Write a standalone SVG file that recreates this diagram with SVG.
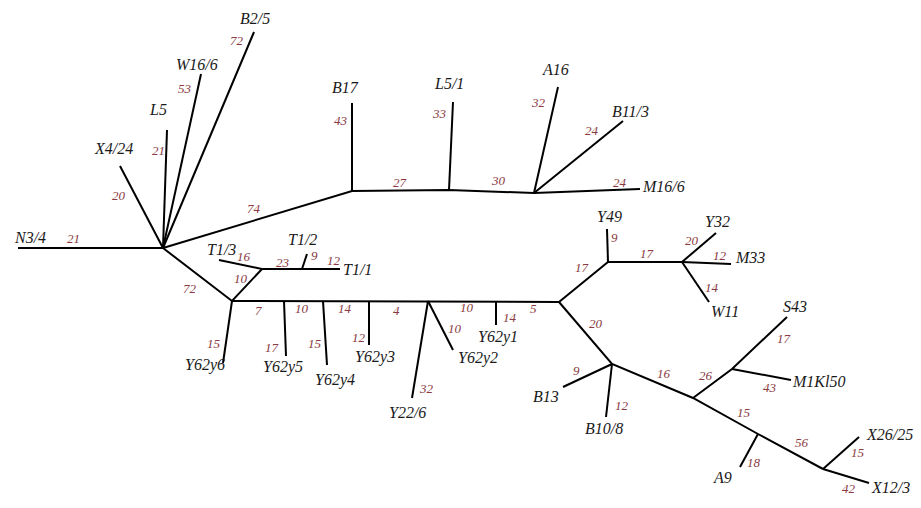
<svg xmlns="http://www.w3.org/2000/svg" width="921" height="508" viewBox="0 0 921 508">
  <style>
    .edge { stroke: #000; stroke-width: 2; fill: none; stroke-linecap: butt; stroke-linejoin: miter; }
    .name { font-family: "Liberation Serif", "Times New Roman", serif; font-style: italic; font-size: 16px; fill: #1a1a1a; }
    .len  { font-family: "Liberation Serif", "Times New Roman", serif; font-style: italic; font-size: 13px; fill: #8b3a42; }
  </style>
  <rect width="921" height="508" fill="#fff"/>

  <!-- branches of the tree -->
  <g id="connectors">
    <!-- left hub -->
    <line class="edge" x1="18" y1="248" x2="163" y2="248"/>
    <line class="edge" x1="163" y1="248" x2="120" y2="166"/>
    <line class="edge" x1="163" y1="248" x2="167" y2="130"/>
    <line class="edge" x1="163" y1="248" x2="201" y2="74"/>
    <line class="edge" x1="163" y1="248" x2="254" y2="32"/>
    <!-- upper arm -->
    <polyline class="edge" points="163,248 352,191 449,190 534,193"/>
    <line class="edge" x1="352" y1="191" x2="352" y2="103"/>
    <line class="edge" x1="449" y1="190" x2="453" y2="102"/>
    <line class="edge" x1="534" y1="193" x2="558" y2="87"/>
    <line class="edge" x1="534" y1="193" x2="623" y2="121"/>
    <line class="edge" x1="534" y1="193" x2="640" y2="189"/>
    <!-- T1 cluster -->
    <polyline class="edge" points="163,248 232,301 262,269 302,269 340,269"/>
    <line class="edge" x1="262" y1="269" x2="219" y2="260"/>
    <line class="edge" x1="302" y1="269" x2="307" y2="254"/>
    <!-- Y62 backbone -->
    <line class="edge" x1="232" y1="301" x2="559" y2="302"/>
    <line class="edge" x1="232" y1="301" x2="223" y2="363"/>
    <line class="edge" x1="284" y1="301" x2="286" y2="356"/>
    <line class="edge" x1="323" y1="301" x2="327" y2="365"/>
    <line class="edge" x1="369" y1="301" x2="369" y2="345"/>
    <line class="edge" x1="428" y1="301" x2="412" y2="398"/>
    <line class="edge" x1="428" y1="301" x2="453" y2="350"/>
    <line class="edge" x1="496" y1="301" x2="496" y2="325"/>
    <!-- upper right -->
    <polyline class="edge" points="559,302 608,262 682,262"/>
    <line class="edge" x1="608" y1="262" x2="607" y2="229"/>
    <line class="edge" x1="682" y1="262" x2="716" y2="233"/>
    <line class="edge" x1="682" y1="262" x2="731" y2="264"/>
    <line class="edge" x1="682" y1="262" x2="709" y2="302"/>
    <!-- lower right -->
    <polyline class="edge" points="559,302 612,364 693,398 758,434 823,469"/>
    <line class="edge" x1="612" y1="364" x2="563" y2="387"/>
    <line class="edge" x1="612" y1="364" x2="606" y2="417"/>
    <polyline class="edge" points="693,398 732,369 787,317"/>
    <line class="edge" x1="732" y1="369" x2="791" y2="380"/>
    <line class="edge" x1="758" y1="434" x2="740" y2="467"/>
    <line class="edge" x1="823" y1="469" x2="859" y2="437"/>
    <line class="edge" x1="823" y1="469" x2="869" y2="483"/>

    <!-- branch lengths -->
    <text class="len" x="67" y="243">21</text>
    <text class="len" x="112" y="200">20</text>
    <text class="len" x="152" y="155">21</text>
    <text class="len" x="178" y="93">53</text>
    <text class="len" x="230" y="45">72</text>
    <text class="len" x="247" y="213">74</text>
    <text class="len" x="334" y="125">43</text>
    <text class="len" x="393" y="187">27</text>
    <text class="len" x="433" y="118">33</text>
    <text class="len" x="492" y="185">30</text>
    <text class="len" x="532" y="107">32</text>
    <text class="len" x="585" y="135">24</text>
    <text class="len" x="613" y="187">24</text>
    <text class="len" x="183" y="293">72</text>
    <text class="len" x="234" y="283">10</text>
    <text class="len" x="237" y="261">16</text>
    <text class="len" x="276" y="267">23</text>
    <text class="len" x="311" y="260">9</text>
    <text class="len" x="327" y="265">12</text>
    <text class="len" x="207" y="348">15</text>
    <text class="len" x="255" y="315">7</text>
    <text class="len" x="265" y="352">17</text>
    <text class="len" x="295" y="313">10</text>
    <text class="len" x="308" y="348">15</text>
    <text class="len" x="338" y="313">14</text>
    <text class="len" x="352" y="342">12</text>
    <text class="len" x="393" y="315">4</text>
    <text class="len" x="420" y="393">32</text>
    <text class="len" x="448" y="333">10</text>
    <text class="len" x="460" y="312">10</text>
    <text class="len" x="503" y="322">14</text>
    <text class="len" x="530" y="313">5</text>
    <text class="len" x="575" y="272">17</text>
    <text class="len" x="611" y="242">9</text>
    <text class="len" x="640" y="258">17</text>
    <text class="len" x="685" y="245">20</text>
    <text class="len" x="713" y="260">12</text>
    <text class="len" x="705" y="292">14</text>
    <text class="len" x="589" y="328">20</text>
    <text class="len" x="573" y="375">9</text>
    <text class="len" x="615" y="410">12</text>
    <text class="len" x="657" y="378">16</text>
    <text class="len" x="699" y="380">26</text>
    <text class="len" x="777" y="343">17</text>
    <text class="len" x="763" y="392">43</text>
    <text class="len" x="737" y="417">15</text>
    <text class="len" x="747" y="467">18</text>
    <text class="len" x="795" y="447">56</text>
    <text class="len" x="851" y="457">15</text>
    <text class="len" x="842" y="493">42</text>
  </g>

  <!-- leaf labels -->
  <g id="N3-4"><text class="name" x="15" y="243">N3/4</text></g>
  <g id="X4-24"><text class="name" x="95" y="154">X4/24</text></g>
  <g id="L5"><text class="name" x="150" y="115">L5</text></g>
  <g id="W16-6"><text class="name" x="176" y="70">W16/6</text></g>
  <g id="B2-5"><text class="name" x="240" y="24">B2/5</text></g>
  <g id="B17"><text class="name" x="332" y="93">B17</text></g>
  <g id="L5-1"><text class="name" x="435" y="89">L5/1</text></g>
  <g id="A16"><text class="name" x="543" y="75">A16</text></g>
  <g id="B11-3"><text class="name" x="612" y="117">B11/3</text></g>
  <g id="M16-6"><text class="name" x="643" y="192">M16/6</text></g>
  <g id="T1-3"><text class="name" x="207" y="255">T1/3</text></g>
  <g id="T1-2"><text class="name" x="288" y="245">T1/2</text></g>
  <g id="T1-1"><text class="name" x="343" y="275">T1/1</text></g>
  <g id="Y62y6"><text class="name" x="185" y="370">Y62y6</text></g>
  <g id="Y62y5"><text class="name" x="263" y="372">Y62y5</text></g>
  <g id="Y62y4"><text class="name" x="315" y="385">Y62y4</text></g>
  <g id="Y62y3"><text class="name" x="355" y="362">Y62y3</text></g>
  <g id="Y22-6"><text class="name" x="389" y="418">Y22/6</text></g>
  <g id="Y62y2"><text class="name" x="458" y="363">Y62y2</text></g>
  <g id="Y62y1"><text class="name" x="478" y="342">Y62y1</text></g>
  <g id="Y49"><text class="name" x="597" y="222">Y49</text></g>
  <g id="Y32"><text class="name" x="705" y="227">Y32</text></g>
  <g id="M33"><text class="name" x="736" y="263">M33</text></g>
  <g id="W11"><text class="name" x="711" y="317">W11</text></g>
  <g id="B13"><text class="name" x="533" y="402">B13</text></g>
  <g id="B10-8"><text class="name" x="585" y="434">B10/8</text></g>
  <g id="S43"><text class="name" x="783" y="312">S43</text></g>
  <g id="M1Kl50"><text class="name" x="793" y="387">M1Kl50</text></g>
  <g id="A9"><text class="name" x="714" y="483">A9</text></g>
  <g id="X26-25"><text class="name" x="867" y="440">X26/25</text></g>
  <g id="X12-3"><text class="name" x="872" y="493">X12/3</text></g>
</svg>
